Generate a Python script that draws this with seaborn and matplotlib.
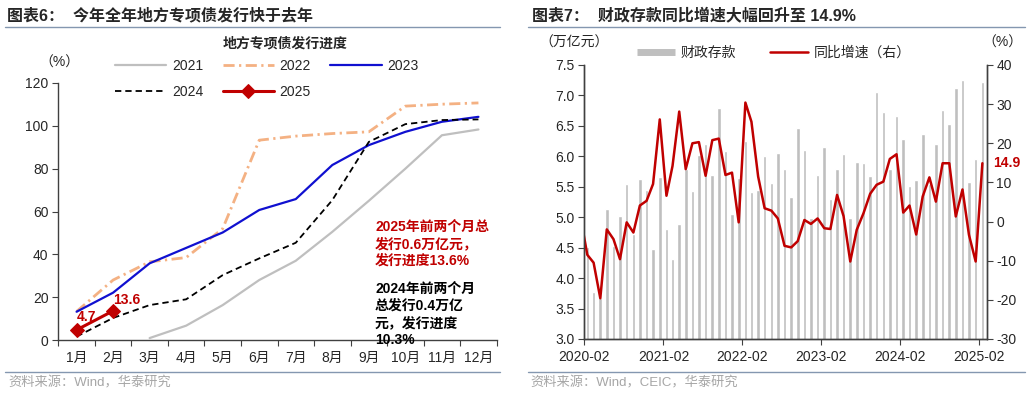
import matplotlib
matplotlib.use("Agg")
import matplotlib.pyplot as plt
import matplotlib.dates as mdates
from matplotlib.lines import Line2D
import numpy as np
import pandas as pd
import seaborn as sns

sns.set_theme(style="white")
plt.rcParams['font.family'] = ['Liberation Sans', 'Noto Sans CJK SC']
plt.rcParams['axes.unicode_minus'] = False

# ---- left chart: special bond issuance progress (%)
month_labels = ['1月', '2月', '3月', '4月', '5月', '6月', '7月', '8月', '9月', '10月', '11月', '12月']
y2021 = [np.nan, np.nan, 0.9, 6.7, 16.3, 28.0, 37.0, 50.5, 65.0, 80.0, 95.6, 98.3]
y2022 = [13.3, 28.0, 36.5, 38.5, 52.0, 93.3, 95.2, 96.4, 97.2, 109.2, 110.1, 110.7]
y2023 = [13.2, 22.1, 35.8, 43.0, 50.2, 60.7, 65.8, 81.7, 91.0, 97.2, 101.9, 104.2]
y2024 = [1.6, 10.3, 16.3, 19.0, 30.3, 38.1, 45.4, 65.3, 92.5, 100.8, 102.7, 103.0]
y2025 = [4.7, 13.6]

# ---- right chart: fiscal deposits (trn yuan) 2020-02 .. 2025-02, yoy growth (%) 2020-01 .. 2025-02
deposits = [4.51, 3.78, 3.68, 5.13, 4.52, 5.02, 5.55, 4.72, 5.63, 5.44,
            4.48, 5.66, 4.81, 4.31, 4.89, 5.79, 5.43, 6.02, 6.20, 5.69,
            6.80, 6.08, 5.05, 5.64, 6.25, 5.41, 5.45, 6.00, 5.57, 6.06,
            5.80, 5.33, 6.46, 6.10, 4.98, 5.69, 6.15, 5.30, 5.80, 6.04,
            4.99, 5.90, 5.89, 5.68, 7.05, 6.72, 5.79, 6.66, 6.28, 5.51,
            5.61, 6.37, 5.55, 6.20, 6.76, 6.53, 7.12, 7.26, 5.58, 5.96,
            7.22]
growth = [1.0,
          -8.5, -10.5, -19.6, -2.0, -4.5, -9.6, -0.2, -2.8, 4.1, 5.3,
          9.6, 26.1, 6.6, 14.2, 28.1, 13.4, 20.0, 20.3, 11.7, 20.8,
          21.2, 11.9, 12.5, -0.2, 30.4, 25.5, 11.5, 3.4, 2.8, 0.8,
          -6.2, -6.6, -5.0, 0.4, -0.6, 0.8, -1.7, -1.9, 6.8, 1.4,
          -10.2, -2.1, 2.1, 7.1, 9.4, 10.2, 16.0, 17.2, 2.3, 4.1,
          -3.3, 6.4, 11.3, 5.1, 14.9, 14.9, 1.3, 8.2, -3.4, -10.2,
          14.9]
year_ticks = ['2020-02', '2021-02', '2022-02', '2023-02', '2024-02', '2025-02']

W, H = 1035, 396
fig = plt.figure(figsize=(W / 100, H / 100), dpi=100)

def fx(px):
    return px / W

def fy(py):
    return 1 - py / H

RED = '#C00000'
GRAY = '#BFBFBF'
SPINE = '#404040'

# ================= left chart =================
axl = fig.add_axes([fx(58.3), fy(340), fx(496.7) - fx(58.3), fy(83) - fy(340)])
idx = np.arange(len(month_labels))
sns.lineplot(x=idx, y=y2021, ax=axl, color=GRAY, lw=1.6, label='2021')
sns.lineplot(x=idx, y=y2022, ax=axl, color='#F4B183', lw=2.0, dashes=(4, 1.6, 0.8, 1.6), label='2022')
sns.lineplot(x=idx, y=y2023, ax=axl, color='#1010D0', lw=1.6, label='2023')
sns.lineplot(x=idx, y=y2024, ax=axl, color='black', lw=1.3, dashes=(3.5, 2.2), label='2024')
sns.lineplot(x=idx[:len(y2025)], y=y2025, ax=axl, color=RED, lw=2.2, marker='D', markersize=7,
             markeredgecolor=RED, label='2025')

axl.set_xlim(-0.5, 11.5)
axl.set_ylim(0, 120)
axl.set_yticks(np.arange(0, 121, 20))
axl.set_xticks(idx)
axl.set_xticklabels(month_labels)
axl.set_xticks(np.arange(-0.5, 12, 1), minor=True)
axl.tick_params(axis='x', which='major', length=0, pad=8, labelsize=10)
axl.tick_params(axis='x', which='minor', direction='out', length=4, width=0.8, color=SPINE, bottom=True)
axl.tick_params(axis='y', direction='out', length=4, width=0.8, color=SPINE, left=True, labelsize=10, pad=3)
for s in ['top', 'right']:
    axl.spines[s].set_visible(False)
for s in ['left', 'bottom']:
    axl.spines[s].set_color(SPINE)
    axl.spines[s].set_linewidth(1.0)
axl.set_xlabel('')
axl.set_ylabel('')

axl.annotate(f'{y2025[0]}', (0, y2025[0]), xytext=(0, 9.4), textcoords='offset points',
             ha='left', va='center', color=RED, fontsize=10, fontweight='bold')
axl.annotate(f'{y2025[1]}', (1, y2025[1]), xytext=(0, 8), textcoords='offset points',
             ha='left', va='center', color=RED, fontsize=10, fontweight='bold')

h, l = axl.get_legend_handles_labels()
hd = dict(zip(l, h))
order = ['2021', '2024', '2022', '2025', '2023']
axl.legend([hd[k] for k in order], order, ncol=3, frameon=False, loc='upper left',
           bbox_to_anchor=(fx(115), fy(59)), bbox_transform=fig.transFigure,
           borderpad=0, borderaxespad=0, handlelength=3.7, handletextpad=0.4,
           columnspacing=1.4, labelspacing=0.85, fontsize=10)

fig.text(fx(285), fy(43.3), '地方专项债发行进度', ha='center', va='center', fontsize=10, fontweight='bold')
fig.text(fx(59), fy(62.3), '（%）', ha='center', va='center', fontsize=10)
fig.text(fx(375), fy(219.5), '2025年前两个月总\n发行0.6万亿元，\n发行进度13.6%', ha='left', va='top',
         fontsize=10, fontweight='bold', color=RED, linespacing=1.3)
fig.text(fx(375), fy(282), '2024年前两个月\n总发行0.4万亿\n元，发行进度\n10.3%', ha='left', va='top',
         fontsize=10, fontweight='bold', color='black', linespacing=1.28)

# ================= right chart =================
axr = fig.add_axes([fx(584.3), fy(339), fx(986.7) - fx(584.3), fy(65) - fy(339)])
bar_months = pd.date_range('2020-02-01', periods=len(deposits), freq='MS')
line_months = pd.date_range('2020-01-01', periods=len(growth), freq='MS')
bar_x = mdates.date2num(bar_months + pd.Timedelta(days=14))
line_x = mdates.date2num(line_months + pd.Timedelta(days=14))

sns.barplot(x=bar_x, y=deposits, native_scale=True, color=GRAY, saturation=1, width=0.6,
            errorbar=None, ax=axr)
axr2 = axr.twinx()
sns.lineplot(x=line_x, y=growth, ax=axr2, color=RED, lw=1.8)

axr.set_xlim(mdates.date2num(pd.Timestamp('2020-02-01')), mdates.date2num(pd.Timestamp('2025-03-07')))
axr.set_ylim(3.0, 7.5)
axr.set_yticks(np.arange(3.0, 7.51, 0.5))
axr.set_yticklabels([f'{v:.1f}' for v in np.arange(3.0, 7.51, 0.5)])
axr2.set_ylim(-30, 40)
axr2.set_yticks(np.arange(-30, 41, 10))
tick_pos = mdates.date2num(pd.to_datetime(year_ticks))
axr.set_xticks(tick_pos)
axr.set_xticklabels(year_ticks)
axr.tick_params(axis='x', direction='out', length=4, width=0.8, color=SPINE, bottom=True, labelsize=10, pad=4)
axr.tick_params(axis='y', direction='out', length=4, width=0.8, color=SPINE, left=True, labelsize=10, pad=3)
axr2.tick_params(axis='y', direction='out', length=4, width=0.8, color=SPINE, right=True, labelsize=10, pad=3)
for a in (axr, axr2):
    a.spines['top'].set_visible(False)
    for s in ['left', 'right', 'bottom']:
        a.spines[s].set_color(SPINE)
        a.spines[s].set_linewidth(1.0)
    a.set_xlabel('')
    a.set_ylabel('')

axr2.annotate(f'{growth[-1]}', (line_x[-1], growth[-1]), xytext=(7.7, 0), textcoords='offset points',
              ha='left', va='center', color=RED, fontsize=10, fontweight='bold', annotation_clip=False)

if axr2.get_legend() is not None:
    axr2.get_legend().remove()
rh = [Line2D([], [], color=GRAY, lw=5, solid_capstyle='butt'), Line2D([], [], color=RED, lw=1.8)]
axr2.legend(rh, ['财政存款', '同比增速（右）'], ncol=2, frameon=False, loc='upper left',
            bbox_to_anchor=(fx(637), fy(46)), bbox_transform=fig.transFigure,
            borderpad=0, borderaxespad=0, handlelength=2.75, handletextpad=0.4,
            columnspacing=2.4, fontsize=10)

fig.text(fx(574), fy(42.7), '（万亿元）', ha='center', va='center', fontsize=10)
fig.text(fx(1002.5), fy(42.7), '（%）', ha='center', va='center', fontsize=10)

# ================= headers / footers =================
RULE = '#8497B0'
fig.text(fx(7), fy(15.7), '图表6：  今年全年地方专项债发行快于去年', ha='left', va='center',
         fontsize=11.5, fontweight='bold')
fig.text(fx(532), fy(15.7), '图表7：  财政存款同比增速大幅回升至 14.9%', ha='left', va='center',
         fontsize=11.5, fontweight='bold')
for x0, x1 in [(5, 500), (528, 1025)]:
    fig.add_artist(Line2D([fx(x0), fx(x1)], [fy(26.7)] * 2, color=RULE, lw=1.0))
    fig.add_artist(Line2D([fx(x0), fx(x1)], [fy(371.7)] * 2, color=RULE, lw=1.0))
fig.text(fx(8), fy(383), '资料来源：Wind，华泰研究', ha='left', va='center', fontsize=9.5, color='#A6A6A6')
fig.text(fx(530), fy(383), '资料来源：Wind，CEIC，华泰研究', ha='left', va='center', fontsize=9.5, color='#A6A6A6')

fig.savefig('out.png', dpi=100)
